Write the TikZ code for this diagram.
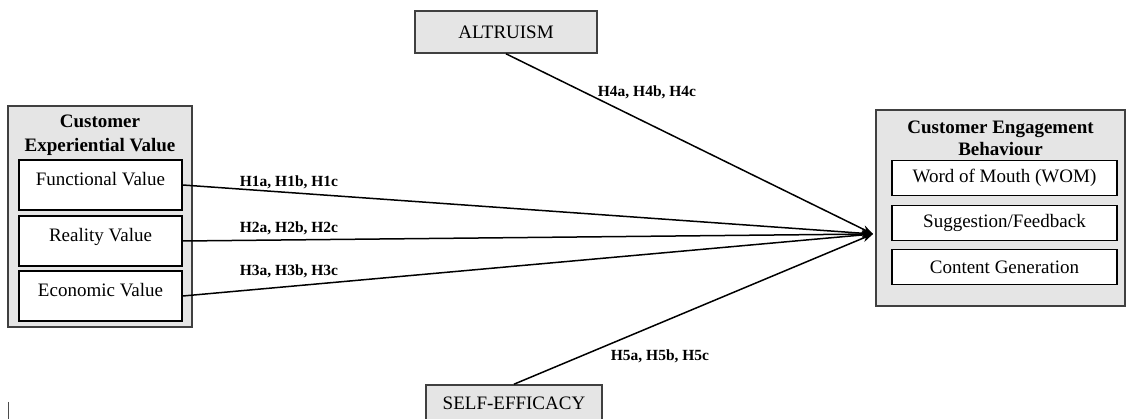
\documentclass[tikz,border=0pt]{standalone}
\usepackage{fontspec}
\setmainfont{Liberation Serif}
\usetikzlibrary{calc,arrows.meta}

\tikzset{
  outerbox/.style={draw=black!75,fill=black!10,line width=1.6pt,rectangle,inner sep=0pt},
  valbox/.style={draw,fill=white,line width=1.6pt,rectangle,inner sep=0pt,minimum width=163pt,
    text height=26pt,text depth=24pt,font=\fontsize{19}{22}\selectfont},
  behbox/.style={draw,fill=white,line width=1.6pt,rectangle,inner sep=0pt,minimum width=225pt,
    minimum height=35pt,font=\fontsize{19}{22}\selectfont},
  head/.style={align=center,font=\fontsize{19}{22}\selectfont\bfseries},
  hyp/.style={font=\fontsize{15.5}{18}\selectfont\bfseries,inner sep=0pt},
  hyparrow/.style={line width=1.5pt,-{Stealth[length=11pt,width=8pt]}}
}

\begin{document}
\begin{tikzpicture}[x=1pt,y=-1pt]
\useasboundingbox (0,0) rectangle (1128,419);

% left block
\draw node [outerbox,minimum width=184pt,minimum height=221pt] (cev) at (100,216.5){};
\draw node [head] (cevhead) at (100,135){Customer\\[1.5pt]Experiential Value};
\draw node [valbox] (functional) at (100.5,185){Functional Value};
\draw node [valbox] (reality) at (100.5,241){Reality Value};
\draw node [valbox] (economic) at (100.5,296){Economic Value};

% right block
\draw node [outerbox,minimum width=249pt,minimum height=196pt] (ceb) at (1000.5,208){};
\draw node [head] (cebhead) at (1000.5,138.5){Customer Engagement\\[0pt]Behaviour};
\draw node [behbox] (wom) at (1004.5,178){Word of Mouth (WOM)};
\draw node [behbox] (feedback) at (1004.5,223){Suggestion/Feedback};
\draw node [behbox] (content) at (1004.5,267){Content Generation};

% moderators
\draw node [outerbox,minimum width=182pt,minimum height=42pt,font=\fontsize{19}{22}\selectfont] (altruism) at (506,32){ALTRUISM};
\draw node [outerbox,minimum width=176pt,minimum height=36pt,font=\fontsize{19}{22}\selectfont] (efficacy) at (514,403){SELF-EFFICACY};

\coordinate (hub) at (873,234);

\draw[hyparrow] (functional.east) -- (hub);
\draw[hyparrow] (reality.east) -- (hub);
\draw[hyparrow] (economic.east) -- (hub);
\draw[hyparrow] (altruism.south) -- (hub);
\draw[hyparrow] (efficacy.north) -- (hub);

\draw node [hyp] (h1) at (289,182){H1a, H1b, H1c};
\draw node [hyp] (h2) at (289,228){H2a, H2b, H2c};
\draw node [hyp] (h3) at (289,271){H3a, H3b, H3c};
\draw node [hyp] (h4) at (647,92){H4a, H4b, H4c};
\draw node [hyp] (h5) at (660,356){H5a, H5b, H5c};

\draw[black!70,line width=1pt] (8,402) -- (8,419);

\end{tikzpicture}
\end{document}
